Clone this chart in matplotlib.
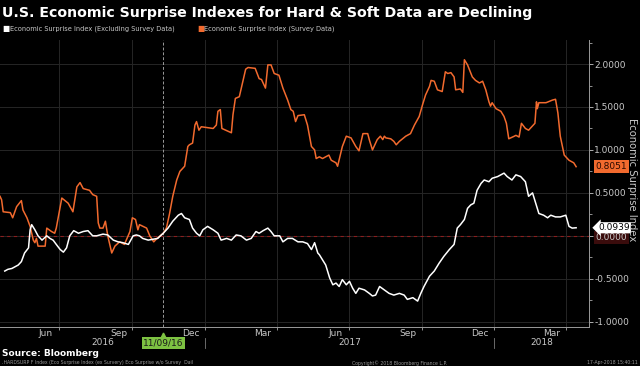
import numpy as np
import pandas as pd
import matplotlib
matplotlib.use("Agg")
import matplotlib.pyplot as plt
import matplotlib.dates as mdates
import matplotlib.transforms as mtransforms
from matplotlib.ticker import MultipleLocator, FuncFormatter

# Dane (dni liczone od 17-04-2016)
start_date = pd.Timestamp("2016-04-17")
end_date = pd.Timestamp("2018-04-30")

survey_days = [
    0, 2, 4, 13, 16, 21, 27, 29, 34, 38,
    42, 44, 46, 48, 57, 59, 65, 69, 71, 78,
    86, 92, 97, 101, 105, 113, 117, 122, 124, 126,
    130, 133, 136, 141, 145, 151, 157, 164, 167, 171,
    174, 176, 185, 189, 194, 197, 202, 206, 210, 214,
    218, 223, 227, 233, 237, 239, 243, 246, 248, 251,
    254, 269, 273, 275, 278, 280, 292, 294, 297, 302,
    306, 310, 313, 322, 327, 330, 335, 338, 342, 346,
    352, 357, 363, 367, 370, 373, 376, 384, 388, 393,
    397, 399, 403, 407, 415, 418, 424, 426, 432, 437,
    443, 449, 453, 458, 464, 466, 470, 476, 480, 483,
    485, 487, 493, 497, 500, 504, 512, 518, 523, 529,
    533, 537, 542, 544, 548, 552, 558, 562, 565, 569,
    573, 575, 581, 584, 586, 590, 596, 600, 605, 609,
    613, 617, 619, 621, 626, 632, 636, 639, 642, 649,
    651, 655, 658, 663, 667, 672, 675, 677, 678, 680,
    689, 697, 701, 704, 707, 712, 718, 724, 727,
]
survey_values = [
    0.46, 0.42, 0.28, 0.27, 0.21, 0.34, 0.41, 0.30, 0.21, 0.11,
    -0.05, -0.08, -0.03, -0.12, -0.12, 0.09, 0.05, 0.03, 0.09, 0.44,
    0.38, 0.28, 0.57, 0.62, 0.55, 0.53, 0.48, 0.46, 0.15, 0.09,
    0.09, 0.17, 0.0, -0.20, -0.12, -0.07, -0.10, 0.05, 0.21, 0.19,
    0.07, 0.13, 0.09, 0.0, -0.07, -0.04, 0.0, 0.03, 0.09, 0.26,
    0.46, 0.65, 0.75, 0.81, 1.04, 1.06, 1.08, 1.29, 1.33, 1.23,
    1.27, 1.25, 1.29, 1.45, 1.47, 1.25, 1.20, 1.41, 1.60, 1.62,
    1.78, 1.94, 1.96, 1.95, 1.83, 1.82, 1.72, 1.99, 1.99, 1.89,
    1.87, 1.72, 1.58, 1.47, 1.45, 1.33, 1.40, 1.41, 1.29, 1.04,
    1.00, 0.90, 0.92, 0.90, 0.94, 0.88, 0.85, 0.81, 1.04, 1.16,
    1.14, 1.04, 0.99, 1.19, 1.19, 1.12, 1.00, 1.12, 1.16, 1.12,
    1.16, 1.14, 1.13, 1.10, 1.06, 1.10, 1.16, 1.19, 1.29, 1.39,
    1.52, 1.64, 1.74, 1.81, 1.80, 1.70, 1.68, 1.91, 1.89, 1.90,
    1.85, 1.70, 1.71, 1.67, 2.05, 1.99, 1.85, 1.81, 1.78, 1.80,
    1.70, 1.56, 1.51, 1.55, 1.48, 1.45, 1.39, 1.31, 1.13, 1.16,
    1.17, 1.15, 1.31, 1.25, 1.23, 1.28, 1.31, 1.56, 1.48, 1.55,
    1.55, 1.58, 1.59, 1.43, 1.16, 0.94, 0.88, 0.85, 0.8051,
]

hard_days = [
    6, 10, 15, 19, 23, 27, 31, 36, 38, 40,
    44, 48, 53, 59, 63, 67, 71, 76, 80, 84,
    88, 93, 99, 105, 111, 117, 122, 126, 130, 136,
    143, 149, 155, 162, 168, 172, 176, 180, 187, 193,
    199, 206, 212, 218, 225, 229, 233, 239, 243, 248,
    252, 256, 262, 269, 275, 279, 286, 292, 298, 304,
    311, 317, 323, 327, 332, 338, 342, 346, 353, 357,
    363, 369, 376, 382, 388, 393, 397, 401, 403, 407,
    411, 416, 420, 424, 428, 432, 437, 441, 445, 449,
    453, 460, 466, 470, 474, 479, 485, 491, 497, 504,
    510, 514, 521, 527, 531, 535, 542, 548, 554, 560,
    567, 573, 577, 581, 586, 590, 594, 598, 602, 607,
    611, 617, 621, 628, 632, 636, 640, 646, 651, 657,
    663, 667, 672, 676, 680, 686, 691, 695, 701, 707,
    714, 718, 722, 727,
]
hard_values = [
    -0.41, -0.39, -0.38, -0.36, -0.34, -0.30, -0.20, -0.14, 0.07, 0.13,
    0.07, 0.0, -0.05, 0.0, -0.03, -0.05, -0.10, -0.16, -0.19, -0.14,
    0.0, 0.06, 0.03, 0.05, 0.06, 0.0, 0.0, 0.01, 0.02, 0.01,
    -0.05, -0.07, -0.08, -0.10, 0.0, 0.01, 0.0, -0.03, -0.05, -0.04,
    -0.03, 0.03, 0.09, 0.17, 0.24, 0.26, 0.21, 0.19, 0.09, 0.03,
    0.0, 0.07, 0.11, 0.07, 0.03, -0.05, -0.03, -0.05, 0.01, 0.0,
    -0.05, -0.03, 0.05, 0.03, 0.06, 0.09, 0.05, 0.0, 0.0, -0.07,
    -0.03, -0.03, -0.07, -0.07, -0.09, -0.16, -0.08, -0.20, -0.22, -0.28,
    -0.34, -0.49, -0.57, -0.55, -0.59, -0.51, -0.57, -0.53, -0.61, -0.67,
    -0.61, -0.63, -0.67, -0.70, -0.69, -0.59, -0.63, -0.67, -0.69, -0.67,
    -0.69, -0.74, -0.72, -0.76, -0.67, -0.59, -0.47, -0.41, -0.32, -0.24,
    -0.16, -0.10, 0.09, 0.13, 0.19, 0.32, 0.36, 0.38, 0.53, 0.61,
    0.65, 0.63, 0.67, 0.69, 0.71, 0.73, 0.69, 0.65, 0.71, 0.69,
    0.63, 0.46, 0.50, 0.38, 0.26, 0.24, 0.21, 0.24, 0.22, 0.22,
    0.24, 0.11, 0.09, 0.0939,
]

month_labels = ["Jun", "Sep", "Dec", "Mar", "Jun", "Sep", "Dec", "Mar"]
month_dates = ["2016-06-14", "2016-09-14", "2016-12-14", "2017-03-14",
               "2017-06-14", "2017-09-14", "2017-12-14", "2018-03-14"]
year_labels = ["2016", "2017", "2018"]
marker_date = "2016-11-09"

survey_dates = start_date + pd.to_timedelta(survey_days, unit="D")
hard_dates = start_date + pd.to_timedelta(hard_days, unit="D")

orange = "#f26a2e"
grey = "#c8c8c8"
bg = "black"

fig = plt.figure(figsize=(6.4, 3.66), dpi=100, facecolor=bg)
ax = fig.add_axes([0.0, 0.1074, 0.920, 0.7833], facecolor=bg)

ax.plot(hard_dates, hard_values, color="white", lw=1.1, zorder=4)
ax.plot(survey_dates, survey_values, color=orange, lw=1.1, zorder=3)

ax.set_xlim(start_date, end_date)
ax.set_ylim(-1.058, 2.28)

# linie pomocnicze
ax.axhline(0, color="#8b1e1e", lw=0.8, ls=(0, (3, 3)), zorder=2)
ax.axvline(pd.Timestamp(marker_date), color="#9a9a9a", lw=0.7, ls=(0, (3, 2)), zorder=2)

# os Y po prawej stronie
ax.yaxis.tick_right()
ax.yaxis.set_major_locator(MultipleLocator(0.5))
ax.yaxis.set_minor_locator(MultipleLocator(0.25))
ax.yaxis.set_major_formatter(FuncFormatter(lambda v, p: f"{v:.4f}"))
ax.tick_params(axis="y", which="major", colors=grey, labelsize=6.5, length=3, width=0.6, pad=1)
ax.tick_params(axis="y", which="minor", colors=grey, length=2, width=0.5)
ax.grid(axis="y", which="major", color="#262626", lw=0.7, zorder=0)

# os X: siatka na poczatku kwartalow, etykiety w polowie miesiaca
ax.xaxis.set_minor_locator(mdates.MonthLocator(bymonth=[1, 4, 7, 10]))
ax.set_xticks(pd.to_datetime(month_dates))
ax.set_xticklabels(month_labels)
ax.tick_params(axis="x", which="major", colors=grey, labelsize=6.5, length=0, pad=2)
ax.tick_params(axis="x", which="minor", colors=grey, length=2, width=0.5)
ax.grid(axis="x", which="minor", color="#262626", lw=0.7, zorder=0)

for side in ["top", "left"]:
    ax.spines[side].set_visible(False)
for side in ["right", "bottom"]:
    ax.spines[side].set_color("#9a9a9a")
    ax.spines[side].set_linewidth(0.7)

fig.text(0.987, 0.51, "Economic Surprise Index", color=grey, fontsize=7.2, rotation=270,
         ha="center", va="center")

# etykiety lat i separatory
trans = mtransforms.blended_transform_factory(ax.transData, ax.transAxes)
year_start = [start_date, pd.Timestamp("2017-01-01"), pd.Timestamp("2018-01-01")]
year_end = [pd.Timestamp("2017-01-01"), pd.Timestamp("2018-01-01"), end_date]
for lab, a, b in zip(year_labels, year_start, year_end):
    ax.text(a + (b - a) / 2, -0.056, lab, transform=trans, color=grey, fontsize=6.5,
            ha="center", va="center")
for d in year_start[1:]:
    ax.plot([d, d], [-0.039, -0.074], transform=trans, color="#7a7a7a", lw=0.6, clip_on=False)

ax.text(pd.Timestamp(marker_date), -0.056, "11/09/16", transform=trans, color="#1a1a1a",
        fontsize=6.5, ha="center", va="center",
        bbox=dict(boxstyle="square,pad=0.15", fc="#7dc242", ec="none"))
ax.plot([pd.Timestamp(marker_date)], [-0.028], transform=trans, marker="^", ms=3.5,
        color="#7dc242", clip_on=False)

# wartosci ostatnich punktow
ytrans = mtransforms.blended_transform_factory(ax.transAxes, ax.transData)
ax.text(1.012, -0.02, "0.0000", transform=ytrans, color=grey, fontsize=6.5, va="center",
        ha="left", bbox=dict(boxstyle="square,pad=0.2", fc="#3a0c0c", ec="none"), zorder=5)
ax.text(1.012, survey_values[-1], f"{survey_values[-1]:.4f}", transform=ytrans, color="#2a0a00",
        fontsize=6.5, va="center", ha="left",
        bbox=dict(boxstyle="square,pad=0.2", fc=orange, ec="none"), zorder=6)
ax.text(1.016, hard_values[-1], f"{hard_values[-1]:.4f}", transform=ytrans, color="black",
        fontsize=6.5, va="center", ha="left",
        bbox=dict(boxstyle="larrow,pad=0.12", fc="white", ec="none"), zorder=6)

# tytul i legenda
fig.text(0.003, 0.965, "U.S. Economic Surprise Indexes for Hard & Soft Data are Declining",
         color="white", fontsize=10.2, fontweight="bold", ha="left", va="center")
fig.text(0.004, 0.921, "\u25a0", color="white", fontsize=5.5, ha="left", va="center")
fig.text(0.015, 0.921, "Economic Surprise Index (Excluding Survey Data)", color=grey,
         fontsize=4.8, ha="left", va="center")
fig.text(0.308, 0.921, "\u25a0", color=orange, fontsize=5.5, ha="left", va="center")
fig.text(0.319, 0.921, "Economic Surprise Index (Survey Data)", color=grey,
         fontsize=4.8, ha="left", va="center")

# stopka
fig.text(0.003, 0.034, "Source: Bloomberg", color="white", fontsize=6.5, fontweight="bold",
         ha="left", va="center")
fig.text(0.003, 0.009, ".HARDSURP F Index (Eco Surprise Index (ex Survery) Eco Surprise w/o Survey  Dail",
         color="#9a9a9a", fontsize=3.3, ha="left", va="center")
fig.text(0.625, 0.009, "Copyright\u00a9 2018 Bloomberg Finance L.P.", color="#9a9a9a",
         fontsize=3.3, ha="center", va="center")
fig.text(0.997, 0.009, "17-Apr-2018 15:40:11", color="#9a9a9a", fontsize=3.3,
         ha="right", va="center")

fig.savefig("out.png", dpi=100, facecolor=bg)
